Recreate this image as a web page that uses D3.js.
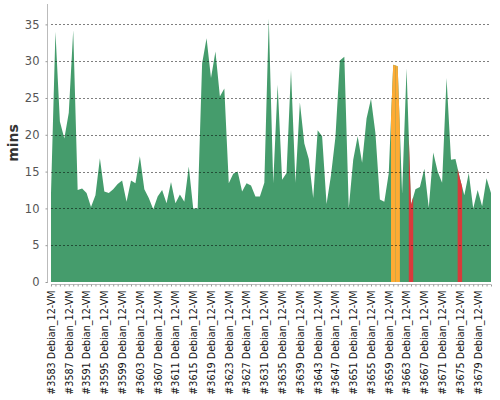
<!DOCTYPE html>
<html><head><meta charset="utf-8">
<script src="https://cdn.jsdelivr.net/npm/d3@7"></script>
<style>body{margin:0;background:#fff}svg{display:block}</style>
</head><body>
<svg id="c" width="500" height="400"></svg>
<script>
// ---- data ----
const firstBuild = 3583;
const buildSuffix = " Debian_12-VM";
const durations = [
  12.0, 34.0, 21.8, 19.5, 23.0, 34.2, 12.5, 12.7, 12.1, 10.2,
  11.8, 16.8, 12.3, 12.1, 12.6, 13.3, 13.8, 10.9, 13.8, 13.4,
  17.1, 12.6, 11.4, 9.9, 11.6, 12.5, 10.7, 13.6, 10.7, 11.9,
  10.9, 15.7, 10.0, 10.0, 29.7, 33.1, 27.7, 31.3, 25.2, 26.3,
  13.4, 14.7, 15.0, 12.3, 13.4, 13.1, 11.6, 11.6, 13.5, 35.8,
  13.4, 26.8, 13.9, 14.8, 28.8, 13.5, 24.4, 18.8, 16.7, 11.4,
  20.6, 19.8, 10.6, 14.5, 19.7, 30.1, 30.6, 10.0, 16.6, 19.8,
  16.2, 22.2, 24.9, 20.2, 11.2, 10.9, 14.8, 29.5, 29.3, 12.0,
  29.0, 10.5, 12.6, 12.9, 15.4, 10.1, 17.6, 15.0, 13.5, 27.7,
  16.6, 16.7, 14.1, 11.8, 14.8, 10.0, 12.5, 10.3, 14.1, 12.1
];
const unstableBuilds = [3660, 3661];
const failedBuilds = [3664, 3675];
const yTicks = [0, 5, 10, 15, 20, 25, 30, 35];
const labelEvery = 4;

const builds = durations.map((d, i) => firstBuild + i);
const data = builds.map((b, i) => ({
  build: b,
  label: "#" + b + buildSuffix,
  value: durations[i],
  status: failedBuilds.includes(b) ? "fail" : unstableBuilds.includes(b) ? "unstable" : "ok"
}));

// ---- layout ----
const L = 51, R = 491, T = 4, B = 282;
const colors = { ok: "#459c6c", unstable: "#feab34", fail: "#d83a3b" };

const svg = d3.select("#c");
const x = d3.scalePoint().domain(builds).range([L, R]).padding(0);
const yMax = d3.max(durations) * 1.055;
const y = d3.scaleLinear().domain([0, yMax]).range([B, T]);
const W = x.step();

// area
const area = d3.area().x(d => x(d.build)).y0(y(0)).y1(d => y(d.value)).curve(d3.curveLinear);
svg.append("path").datum(data).attr("d", area).attr("fill", colors.ok);

// coloured builds: polygon from midpoint to midpoint
data.forEach((d, i) => {
  if (d.status === "ok") return;
  const prev = i > 0 ? data[i - 1].value : d.value;
  const next = i < data.length - 1 ? data[i + 1].value : d.value;
  const xc = x(d.build);
  const pts = [
    [xc - W / 2, y(0)],
    [xc - W / 2, y((prev + d.value) / 2)],
    [xc, y(d.value)],
    [xc + W / 2, y((next + d.value) / 2)],
    [xc + W / 2, y(0)]
  ];
  svg.append("path").attr("d", d3.line()(pts) + "Z").attr("fill", colors[d.status]);
});

// gridlines
svg.append("g").selectAll("line").data(yTicks.filter(t => t > 0)).join("line")
  .attr("x1", L).attr("x2", R)
  .attr("y1", d => Math.round(y(d)) + 0.5).attr("y2", d => Math.round(y(d)) + 0.5)
  .attr("stroke", "#000").attr("stroke-opacity", 0.5)
  .attr("stroke-dasharray", "2,2");

// y axis
const yAxis = d3.axisLeft(y).tickValues(yTicks).tickSize(2).tickPadding(6);
const gy = svg.append("g").attr("transform", "translate(47.5,0)").call(yAxis);
gy.select(".domain").attr("d", `M0,${T}V${B + 1}`).attr("stroke", "#bbb");
gy.selectAll(".tick line").attr("stroke", "#999");
gy.selectAll(".tick text").attr("font-family", "DejaVu Sans").attr("font-size", 11.5)
  .attr("fill", "#555");

// x axis
const xAxis = d3.axisBottom(x).tickSize(2).tickPadding(3)
  .tickFormat((b, i) => i % labelEvery === 0 ? "#" + b + buildSuffix : "");
const gx = svg.append("g").attr("transform", "translate(0,284.5)").call(xAxis);
gx.select(".domain").attr("d", `M${L},0H${R}`).attr("stroke", "#bbb");
gx.selectAll(".tick line").attr("stroke", "#999");
gx.selectAll(".tick text")
  .attr("font-family", "DejaVu Sans").attr("font-size", 9.6).attr("fill", "#111")
  .attr("transform", "rotate(-90)")
  .attr("text-anchor", "end")
  .attr("x", -6).attr("y", 0).attr("dy", "0.35em");

// y title
svg.append("text").attr("transform", "translate(18,143) rotate(-90)")
  .attr("text-anchor", "middle")
  .attr("font-family", "DejaVu Sans").attr("font-weight", "bold").attr("font-size", 14)
  .attr("fill", "#333").text("mins");
</script>
</body></html>
